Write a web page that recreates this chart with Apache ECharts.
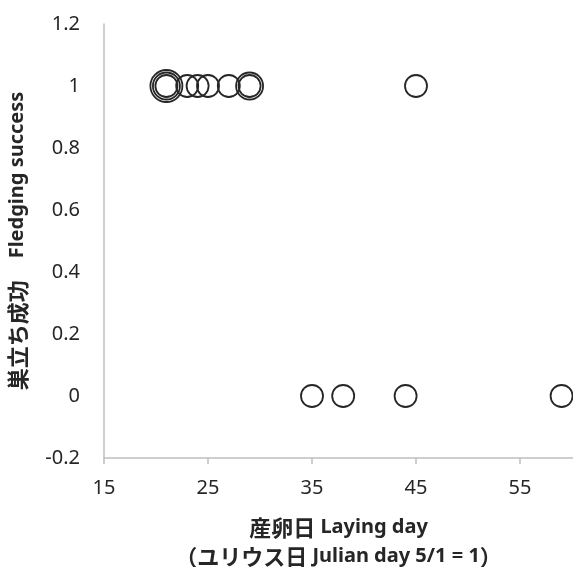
<!DOCTYPE html>
<html>
<head>
<meta charset="utf-8">
<script src="https://cdn.jsdelivr.net/npm/echarts@6/dist/echarts.min.js"></script>
<style>html,body{margin:0;padding:0;background:#fff;}#c{width:573px;height:567px;}</style>
</head>
<body>
<div id="c"></div>
<script>
// Data
const layingDay = [21, 23, 24, 25, 27, 29, 45, 35, 38, 44, 59];
const fledgingSuccess = [1, 1, 1, 1, 1, 1, 1, 0, 0, 0, 0];
const nestCount = [3, 1, 1, 1, 1, 2, 1, 1, 1, 1, 1];
const xTicks = [15, 25, 35, 45, 55];
const yTicks = [-0.2, 0, 0.2, 0.4, 0.6, 0.8, 1, 1.2];

const maxCount = Math.max(...nestCount);
const series = [];
for (let k = 1; k <= maxCount; k++) {
  const pts = [];
  layingDay.forEach((d, i) => { if (nestCount[i] >= k) pts.push([d, fledgingSuccess[i]]); });
  series.push({
    type: 'scatter',
    data: pts,
    symbol: 'circle',
    symbolSize: 22 + 5 * (k - 1),
    itemStyle: { color: 'rgba(0,0,0,0)', borderColor: '#262626', borderWidth: 1.8, opacity: 1 },
    emphasis: { disabled: true },
    silent: true
  });
}

const richName = {
  cj: { fontFamily: 'Noto Sans CJK JP', fontWeight: 'bold', fontSize: 22, color: '#262626', lineHeight: 29 },
  la: { fontFamily: 'Noto Sans', fontWeight: 'bold', fontSize: 20, color: '#262626', lineHeight: 29 }
};

const chart = echarts.init(document.getElementById('c'), null, { renderer: 'canvas' });
chart.setOption({
  animation: false,
  backgroundColor: '#ffffff',
  grid: { left: 104, top: 24, right: 0, bottom: 109, containLabel: false, outerBoundsMode: 'none' },
  xAxis: {
    type: 'value',
    min: xTicks[0],
    max: 15 + (573 - 104) / 10.4,
    name: '{cj|産卵日}{la| Laying day}\n{cj|（ユリウス日}{la| Julian day 5/1 = 1}{cj|）}',
    nameLocation: 'middle',
    nameGap: 55,
    nameTextStyle: { rich: richName, lineHeight: 29 },
    axisLine: { onZero: false, lineStyle: { color: '#bfbfbf', width: 1.5 } },
    axisTick: { show: true, length: 6, inside: false, lineStyle: { color: '#bfbfbf', width: 1.5 }, customValues: xTicks },
    axisLabel: { customValues: xTicks, fontFamily: 'Noto Sans', fontSize: 20, color: '#262626', margin: 20 },
    splitLine: { show: false }
  },
  yAxis: {
    type: 'value',
    min: yTicks[0],
    max: yTicks[yTicks.length - 1],
    interval: 0.2,
    name: '{cj|巣立ち成功　}{la|Fledging success}',
    nameLocation: 'middle',
    nameGap: 72,
    nameRotate: 90,
    nameTextStyle: { rich: richName },
    axisLine: { show: true, onZero: false, lineStyle: { color: '#bfbfbf', width: 1.5 } },
    axisTick: { show: false },
    axisLabel: { fontFamily: 'Noto Sans', fontSize: 20, color: '#262626', margin: 24,
      formatter: v => String(Math.round(v * 10) / 10) },
    splitLine: { show: false }
  },
  series: series
});
</script>
</body>
</html>
